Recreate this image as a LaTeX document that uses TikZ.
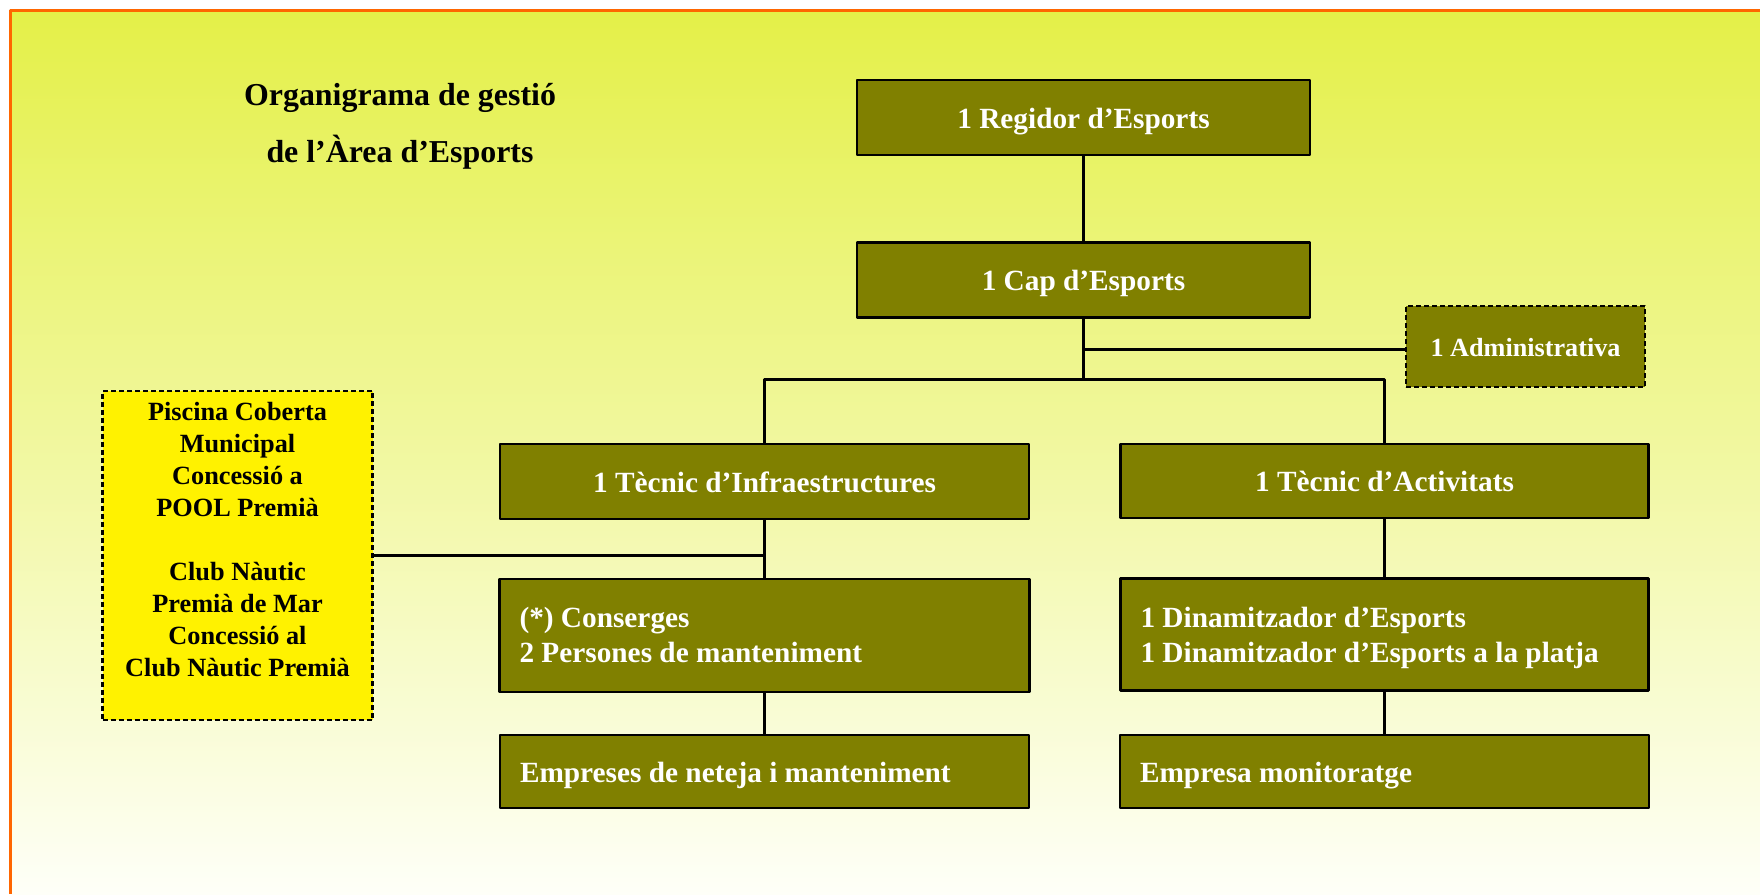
\documentclass[tikz,border=0pt]{standalone}
\usepackage{fontspec}
\setmainfont{Liberation Serif}
\definecolor{olivebox}{RGB}{128,128,0}
\definecolor{bgtop}{RGB}{228,240,72}
\definecolor{bgmid}{RGB}{240,245,178}
\definecolor{bgbot}{RGB}{254,255,248}
\definecolor{frameorange}{RGB}{255,102,0}
\begin{document}
\begin{tikzpicture}[x=1pt,y=-1pt,line join=round,
	box/.style={draw=black,line width=2.6pt,fill=olivebox,text=white,inner sep=0pt,font=\fontsize{29.3}{35.2}\selectfont\bfseries,
		execute at begin node={\spaceskip=0pt\xspaceskip=0pt}},
	cbox/.style={box,text height=21pt,text depth=0pt},
	lbox/.style={box,align=left,inner xsep=20pt},
	dbox/.style={box,line width=2.6pt,dash pattern=on 5pt off 3pt},
	link/.style={line width=2.5pt}]
	\useasboundingbox (0,0) rectangle (1760,894);
	\fill[white] (0,0) rectangle (1760,894);
	\shade[top color=bgtop,middle color=bgmid,bottom color=bgbot] (10.5,10.5) rectangle (1760,894);
	\draw[frameorange,line width=3pt] (10.5,894)--(10.5,10.5)--(1760,10.5);
	\node[align=center,font=\fontsize{31.9}{57}\selectfont\bfseries] (titol) at (400,126.5) {Organigrama de gestió\\de l’Àrea d’Esports};
	\node[cbox,minimum width=453pt,minimum height=75pt] (regidor) at (1083.5,117.5) {1 Regidor d’Esports};
	\node[cbox,minimum width=453pt,minimum height=75pt] (cap) at (1083.5,280) {1 Cap d’Esports};
	\node[dbox,text height=19pt,text depth=0pt,font=\fontsize{26.2}{31}\selectfont\bfseries,minimum width=239pt,minimum height=81pt] (admin) at (1525.5,346.5) {1 Administrativa};
	\node[cbox,minimum width=529pt,minimum height=75pt] (infra) at (764.5,481.5) {1 Tècnic d’Infraestructures};
	\node[cbox,minimum width=528pt,minimum height=74pt] (activ) at (1384.5,481) {1 Tècnic d’Activitats};
	\node[lbox,text width=490pt,minimum height=113pt] (consg) at (764.5,635.3) {(*) Conserges\\2 Persones de manteniment};
	\node[lbox,text width=488pt,minimum height=112pt] (dinam) at (1384.5,634.7) {\rule{0pt}{27.5pt}1 Dinamitzador d’Esports\\1 Dinamitzador d’Esports a la platja};
	\node[lbox,text height=21pt,text depth=0pt,text width=489pt,minimum height=73pt] (neteja) at (764.5,771.5) {Empreses de neteja i manteniment};
	\node[lbox,text height=21pt,text depth=0pt,text width=489pt,minimum height=73pt] (monit) at (1384.5,771.5) {Empresa monitoratge};
	\node[dbox,fill=yellow,text=black,align=center,minimum width=270pt,minimum height=329pt,font=\fontsize{26.3}{31.9}\selectfont\bfseries] (piscina) at (237.5,555.4)
		{Piscina Coberta\\Municipal\\Concessió a\\POOL Premià\\[31.9pt]Club Nàutic\\Premià de Mar\\Concessió al\\Club Nàutic Premià\rule[-32pt]{0pt}{0pt}};
	\coordinate (bus) at (1083.5,379.5);
	\coordinate (adm) at (1083.5,349.5);
	\draw[link] (regidor)--(cap);
	\draw[link] (cap)--(bus);
	\draw[link] (adm)--(adm -| admin.west);
	\draw[link] (infra.north) |- (bus) -| (activ.north);
	\draw[link] (infra)--(consg);
	\draw[link] (consg)--(neteja);
	\draw[link] (activ)--(dinam);
	\draw[link] (dinam)--(monit);
	\draw[link] (piscina.east)--(piscina.east -| infra.south);
\end{tikzpicture}
\end{document}
